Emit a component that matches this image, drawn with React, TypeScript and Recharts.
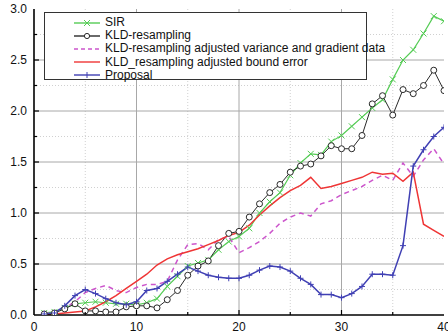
import React from "react";
import { LineChart, Line, XAxis, YAxis, CartesianGrid } from "recharts";

const steps = [1,2,3,4,5,6,7,8,9,10,11,12,13,14,15,16,17,18,19,20,21,22,23,24,25,26,27,28,29,30,31,32,33,34,35,36,37,38,39,40];
const sirValues = [0.02,0.03,0.07,0.11,0.12,0.13,0.12,0.11,0.11,0.10,0.12,0.16,0.28,0.38,0.48,0.51,0.54,0.64,0.72,0.77,0.85,1.00,1.11,1.20,1.37,1.49,1.58,1.57,1.70,1.76,1.85,1.94,2.03,2.11,2.31,2.50,2.60,2.76,2.93,2.88];
const kldValues = [0.01,0.02,0.06,0.11,0.04,0.04,0.03,0.03,0.08,0.09,0.09,0.07,0.15,0.24,0.39,0.48,0.53,0.68,0.80,0.82,0.96,1.09,1.20,1.28,1.40,1.46,1.48,1.56,1.66,1.63,1.63,1.76,2.07,2.15,1.96,2.21,2.17,2.25,2.40,2.20];
const kldVarGradValues = [0.01,0.03,0.07,0.13,0.22,0.26,0.29,0.24,0.22,0.27,0.30,0.30,0.33,0.54,0.69,0.70,0.64,0.74,0.77,0.61,0.66,0.72,0.80,0.90,0.96,1.00,0.97,1.09,1.12,1.18,1.22,1.26,1.32,1.37,1.32,1.49,1.36,1.52,1.63,1.48];
const kldBoundValues = [0.00,0.01,0.02,0.03,0.04,0.08,0.13,0.19,0.26,0.33,0.40,0.49,0.55,0.59,0.62,0.65,0.69,0.73,0.78,0.81,0.88,0.98,1.07,1.15,1.22,1.27,1.35,1.24,1.26,1.29,1.32,1.35,1.40,1.38,1.39,1.31,1.40,0.89,0.83,0.77];
const proposalValues = [0.01,0.02,0.09,0.19,0.25,0.21,0.16,0.12,0.10,0.13,0.24,0.26,0.33,0.40,0.47,0.43,0.39,0.37,0.36,0.36,0.39,0.44,0.48,0.47,0.43,0.36,0.30,0.20,0.20,0.17,0.21,0.28,0.40,0.40,0.39,0.68,1.46,1.62,1.75,1.84];

const seriesNames = [
  "SIR",
  "KLD-resampling",
  "KLD-resampling adjusted variance and gradient data",
  "KLD_resampling adjusted bound error",
  "Proposal",
];

const xTicks = [0,5,10,15,20,25,30,35,40];
const yTicks = [0,0.25,0.5,0.75,1,1.25,1.5,1.75,2,2.25,2.5,2.75,3];
const xMajor = [10,20,30];
const xMinor = [5,15,25,35];
const yMajor = [0.5,1,1.5,2,2.5];
const yMinor = [0.25,0.75,1.25,1.75,2.25,2.75];

const data = steps.map((t, i) => ({
  t,
  sir: sirValues[i],
  kld: kldValues[i],
  kldVar: kldVarGradValues[i],
  kldBound: kldBoundValues[i],
  proposal: proposalValues[i],
}));

const FONT = "Arial, 'Liberation Sans', Helvetica, sans-serif";
const C_SIR = "#55cc55";
const C_KLD = "#2a2a2a";
const C_VAR = "#cc55cc";
const C_BOUND = "#ef3535";
const C_PROP = "#4040b4";

const isMajorX = (v: number) => v % 10 === 0;
const isMajorY = (v: number) => Math.abs(v * 2 - Math.round(v * 2)) < 1e-6;

const BottomTick = (p: any) => {
  const { x, y, payload } = p;
  const v = payload.value;
  const major = isMajorX(v);
  return (
    <g>
      {v !== 0 && v !== 40 && (
        <line x1={x} x2={x} y1={y} y2={y - (major ? 5 : 3)} stroke="#000" strokeWidth={1.2} />
      )}
      {major && (
        <text x={x} y={y + 16} textAnchor="middle" fontSize={12} fontFamily={FONT} fill="#111">
          {v}
        </text>
      )}
    </g>
  );
};

const TopTick = (p: any) => {
  const { x, y, payload } = p;
  const v = payload.value;
  if (v === 0 || v === 40) return <g />;
  const major = isMajorX(v);
  return (
    <line x1={x} x2={x} y1={y} y2={y + (major ? 5 : 3)} stroke="#000" strokeWidth={1.2} />
  );
};

const LeftTick = (p: any) => {
  const { x, y, payload } = p;
  const v = payload.value;
  const major = isMajorY(v);
  return (
    <g>
      {v !== 0 && v !== 3 && (
        <line x1={x} x2={x + (major ? 5 : 3)} y1={y} y2={y} stroke="#000" strokeWidth={1.2} />
      )}
      {major && (
        <text x={x - 7} y={y + 4} textAnchor="end" fontSize={12} fontFamily={FONT} fill="#111">
          {v.toFixed(1)}
        </text>
      )}
    </g>
  );
};

const RightTick = (p: any) => {
  const { x, y, payload } = p;
  const v = payload.value;
  if (v === 0 || v === 3) return <g />;
  const major = isMajorY(v);
  return <line x1={x} x2={x - (major ? 5 : 3)} y1={y} y2={y} stroke="#000" strokeWidth={1.2} />;
};

const XDot = (p: any) => {
  const { cx, cy, index } = p;
  if (cx == null || cy == null) return <g key={`x${index}`} />;
  const s = 3;
  return (
    <path
      key={`x${index}`}
      d={`M${cx - s},${cy - s}L${cx + s},${cy + s}M${cx - s},${cy + s}L${cx + s},${cy - s}`}
      stroke={C_SIR}
      strokeWidth={1}
      fill="none"
    />
  );
};

const ODot = (p: any) => {
  const { cx, cy, index } = p;
  if (cx == null || cy == null) return <g key={`o${index}`} />;
  return <circle key={`o${index}`} cx={cx} cy={cy} r={3} fill="#fff" stroke={C_KLD} strokeWidth={1} />;
};

const PlusDot = (p: any) => {
  const { cx, cy, index } = p;
  if (cx == null || cy == null) return <g key={`p${index}`} />;
  const s = 3;
  return (
    <path
      key={`p${index}`}
      d={`M${cx - s},${cy}L${cx + s},${cy}M${cx},${cy - s}L${cx},${cy + s}`}
      stroke={C_PROP}
      strokeWidth={1}
      fill="none"
    />
  );
};

const scaleOf = (axis: any) => {
  const s = axis && axis.scale;
  if (typeof s === "function") return (v: number) => s(v);
  if (s && typeof s.map === "function") return (v: number) => s.map(v);
  return null;
};

const gridX = (vals: number[]) => (props: any) => {
  const f = scaleOf(props.xAxis);
  if (f) return vals.map(f);
  const o = props.offset;
  return vals.map((v) => o.left + (o.width * v) / 40);
};
const gridY = (vals: number[]) => (props: any) => {
  const f = scaleOf(props.yAxis);
  if (f) return vals.map(f);
  const o = props.offset;
  return vals.map((v) => o.top + o.height * (1 - v / 3));
};

const legendItems = [
  { name: seriesNames[0], color: C_SIR, dash: undefined, marker: "x" },
  { name: seriesNames[1], color: C_KLD, dash: undefined, marker: "o" },
  { name: seriesNames[2], color: C_VAR, dash: "4 3", marker: "" },
  { name: seriesNames[3], color: C_BOUND, dash: undefined, marker: "" },
  { name: seriesNames[4], color: C_PROP, dash: undefined, marker: "+" },
];

const LegendBox = () => (
  <div
    style={{
      position: "absolute",
      left: 44,
      top: 12,
      width: 323,
      height: 68,
      border: "1.3px solid #333",
      background: "#fff",
      boxSizing: "border-box",
      fontFamily: FONT,
      fontSize: 12,
      color: "#111",
      paddingTop: 3,
    }}
  >
    {legendItems.map((it) => (
      <div key={it.name} style={{ height: 13.2, display: "flex", alignItems: "center", whiteSpace: "nowrap" }}>
        <svg width={30} height={10} style={{ marginLeft: 28, marginRight: 2, flex: "none" }}>
          <line x1={1} x2={27} y1={5} y2={5} stroke={it.color} strokeWidth={1.4} strokeDasharray={it.dash} />
          {it.marker === "x" && (
            <path d="M11,2L17,8M11,8L17,2" stroke={it.color} strokeWidth={1} fill="none" />
          )}
          {it.marker === "o" && <circle cx={14} cy={5} r={2.6} fill="#fff" stroke={it.color} strokeWidth={1} />}
          {it.marker === "+" && <path d="M14,2L14,8" stroke={it.color} strokeWidth={1} fill="none" />}
        </svg>
        <span style={{ lineHeight: "13px" }}>{it.name}</span>
      </div>
    ))}
  </div>
);

export default function App() {
  return (
    <div style={{ position: "absolute", left: 0, top: 0, width: 448, height: 336, background: "#fff" }}>
      <LineChart width={448} height={336} data={data} margin={{ top: 9, right: 4, bottom: 0, left: 0 }}>
        <CartesianGrid
          horizontal={true}
          vertical={true}
          stroke="#d0d0d0"
          strokeDasharray="1 2"
          verticalCoordinatesGenerator={gridX(xMinor)}
          horizontalCoordinatesGenerator={gridY(yMinor)}
        />
        <CartesianGrid
          horizontal={true}
          vertical={true}
          stroke="#a8a8a8"
          verticalCoordinatesGenerator={gridX(xMajor)}
          horizontalCoordinatesGenerator={gridY(yMajor)}
        />
        <XAxis
          xAxisId={0}
          dataKey="t"
          type="number"
          domain={[0, 40]}
          ticks={xTicks}
          interval={0}
          allowDataOverflow
          height={21}
          tickSize={0}
          tickMargin={0}
          tickLine={false}
          tick={BottomTick}
          axisLine={{ stroke: "#000", strokeWidth: 1.6 }}
        />
        <XAxis
          xAxisId="top"
          orientation="top"
          dataKey="t"
          type="number"
          domain={[0, 40]}
          ticks={xTicks}
          interval={0}
          allowDataOverflow
          height={0}
          tickSize={0}
          tickMargin={0}
          tickLine={false}
          tick={TopTick}
          axisLine={{ stroke: "#000", strokeWidth: 1.6 }}
        />
        <YAxis
          yAxisId={0}
          type="number"
          domain={[0, 3]}
          ticks={yTicks}
          interval={0}
          allowDataOverflow
          width={34}
          tickSize={0}
          tickMargin={0}
          tickLine={false}
          tick={LeftTick}
          axisLine={{ stroke: "#000", strokeWidth: 1.6 }}
        />
        <YAxis
          yAxisId="right"
          orientation="right"
          type="number"
          domain={[0, 3]}
          ticks={yTicks}
          interval={0}
          allowDataOverflow
          width={0}
          tickSize={0}
          tickMargin={0}
          tickLine={false}
          tick={RightTick}
          axisLine={{ stroke: "#000", strokeWidth: 1.6 }}
        />
        <Line
          dataKey="sir"
          name={seriesNames[0]}
          stroke={C_SIR}
          strokeWidth={1.2}
          dot={XDot}
          activeDot={false}
          isAnimationActive={false}
        />
        <Line
          dataKey="kld"
          name={seriesNames[1]}
          stroke={C_KLD}
          strokeWidth={1}
          dot={ODot}
          activeDot={false}
          isAnimationActive={false}
        />
        <Line
          dataKey="kldVar"
          name={seriesNames[2]}
          stroke={C_VAR}
          strokeWidth={1.5}
          strokeDasharray="5 4"
          dot={false}
          activeDot={false}
          isAnimationActive={false}
        />
        <Line
          dataKey="kldBound"
          name={seriesNames[3]}
          stroke={C_BOUND}
          strokeWidth={1.5}
          dot={false}
          activeDot={false}
          isAnimationActive={false}
        />
        <Line
          dataKey="proposal"
          name={seriesNames[4]}
          stroke={C_PROP}
          strokeWidth={1.5}
          dot={PlusDot}
          activeDot={false}
          isAnimationActive={false}
        />
      </LineChart>
      <LegendBox />
    </div>
  );
}
